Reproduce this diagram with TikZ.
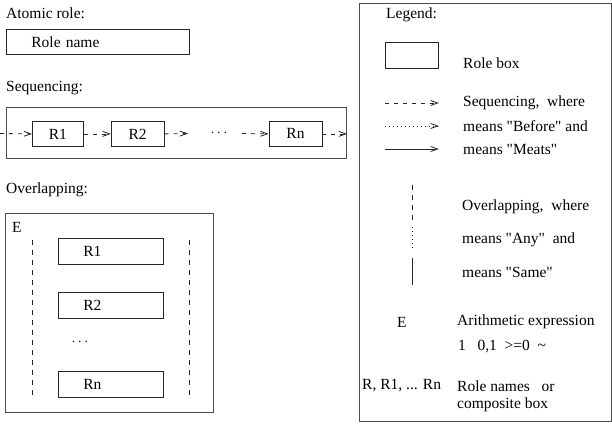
\documentclass[tikz,border=0pt]{standalone}
\usepackage{fontspec}
\setmainfont{Liberation Serif}
\usetikzlibrary{arrows.meta,positioning}

\begin{document}
\begin{tikzpicture}[
  x=1pt, y=-1pt,
  font=\fontsize{15.5}{18}\selectfont,
  >={Straight Barb[length=7pt,width=5pt]},
  frame/.style={draw=black!70, line width=1pt, anchor=north west, inner sep=0pt},
  rolebox/.style={draw=black!85, line width=0.8pt, anchor=north west, inner sep=0pt,
    minimum height=25pt},
  namebox/.style={rolebox, inner xsep=25pt, align=left},
  caption/.style={anchor=west, inner sep=0pt},
  seqarrow/.style={->, draw=black!85, line width=0.8pt, dash pattern=on 4pt off 5pt},
  beforearrow/.style={->, draw=black!85, line width=0.8pt, dash pattern=on 1pt off 3pt},
  meetsarrow/.style={->, draw=black!85, line width=0.8pt},
  anyline/.style={draw=black!85, line width=0.8pt, dash pattern=on 5pt off 5pt},
  beforeline/.style={draw=black!85, line width=0.8pt, dash pattern=on 1pt off 3pt},
  sameline/.style={draw=black!85, line width=0.8pt}
]
\useasboundingbox (0,0) rectangle (612,423);

% atomic role
\node[caption] (atomiclbl) at (6,13) {Atomic role:};
\node[namebox, minimum width=183pt, text width=133pt] (rolename) at (6,29) {Role name};

% sequencing
\node[caption] (seqlbl) at (6,88) {Sequencing:};
\node[frame, minimum width=340pt, minimum height=51pt] (seqframe) at (6,107) {};
\node[rolebox, minimum width=51pt] (sr1) at (32,121) {R1};
\node[rolebox, minimum width=53pt, right=27pt of sr1] (sr2) {R2};
\node[rolebox, minimum width=53pt, right=104pt of sr2] (srn) {Rn};
\node[inner sep=0pt] (seqdots) at (219,133.5) {$\cdots$};
\coordinate (seqin) at (0,133.5);
\coordinate (seqgap) at (188,133.5);
\coordinate (seqresume) at (242,133.5);
\coordinate (seqout) at (seqframe.east |- srn.east);

\draw[seqarrow] (seqin) -- (sr1.west);
\draw[seqarrow] (sr1) -- (sr2);
\draw[seqarrow] (sr2.east) -- (seqgap);
\draw[seqarrow] (seqresume) -- (srn.west);
\draw[seqarrow] (srn.east) -- (seqout);

% overlapping
\node[caption] (overlbl) at (6,190) {Overlapping:};
\node[frame, minimum width=208pt, minimum height=199pt] (overframe) at (5,213) {};
\node[caption] (overexpr) at (12,227) {E};
\node[namebox, minimum width=105pt, minimum height=26pt, text width=55pt] (ovr1) at (58,238) {R1};
\node[namebox, minimum width=105pt, minimum height=26pt, text width=55pt, below=27pt of ovr1] (ovr2) {R2};
\node[namebox, minimum width=105pt, minimum height=26pt, text width=55pt, below=52pt of ovr2] (ovrn) {Rn};
\node[inner sep=0pt] (overdots) at (80,342) {$\cdots$};
\draw[anyline] (32,240) -- (32,395);
\draw[anyline] (189,240) -- (189,395);

% legend
\node[frame, minimum width=252pt, minimum height=418pt] (legend) at (359,3) {};
\node[caption] (lgtitle) at (386,15) {Legend:};
\node[rolebox, minimum width=53pt, minimum height=26pt] (lgbox) at (385,42) {};
\node[caption] (lgboxtxt) at (463,63) {Role box};

\node[caption] (lgseq) at (463,103) {Sequencing,\ \ where};
\node[caption] (lgbefore) at (463,126) {means \textquotedbl Before\textquotedbl{} and};
\node[caption] (lgmeets) at (463,149) {means \textquotedbl Meats\textquotedbl};
\draw[seqarrow] (lgbox.west |- lgseq.west) -- (lgbox.east |- lgseq.west);
\draw[beforearrow] (lgbox.west |- lgbefore.west) -- (lgbox.east |- lgbefore.west);
\draw[meetsarrow] (lgbox.west |- lgmeets.west) -- (lgbox.east |- lgmeets.west);

\node[caption] (lgover) at (462,207) {Overlapping,\ \ where};
\node[caption] (lgany) at (462,240) {means \textquotedbl Any\textquotedbl\ \ and};
\node[caption] (lgsame) at (462,272) {means \textquotedbl Same\textquotedbl};
\draw[anyline] (412,185) -- (412,222);
\draw[beforeline] (412,227) -- (412,250);
\draw[sameline] (412,258) -- (412,285);

\node[caption] (lgexpr) at (397,322) {E};
\node[caption] (lgexprtxt) at (457,322) {Arithmetic expression};
\node[caption] (lgvalues) at (458,347) {1\ \ \ 0,1\ \ >=0\ \ \textasciitilde};
\node[caption] (lgnames) at (362,386) {R, R1, ... Rn};
\node[caption] (lgnamestxt) at (457,386) {Role names\ \ \ or};
\node[caption] (lgcomposite) at (457,405) {composite box};
\end{tikzpicture}
\end{document}
